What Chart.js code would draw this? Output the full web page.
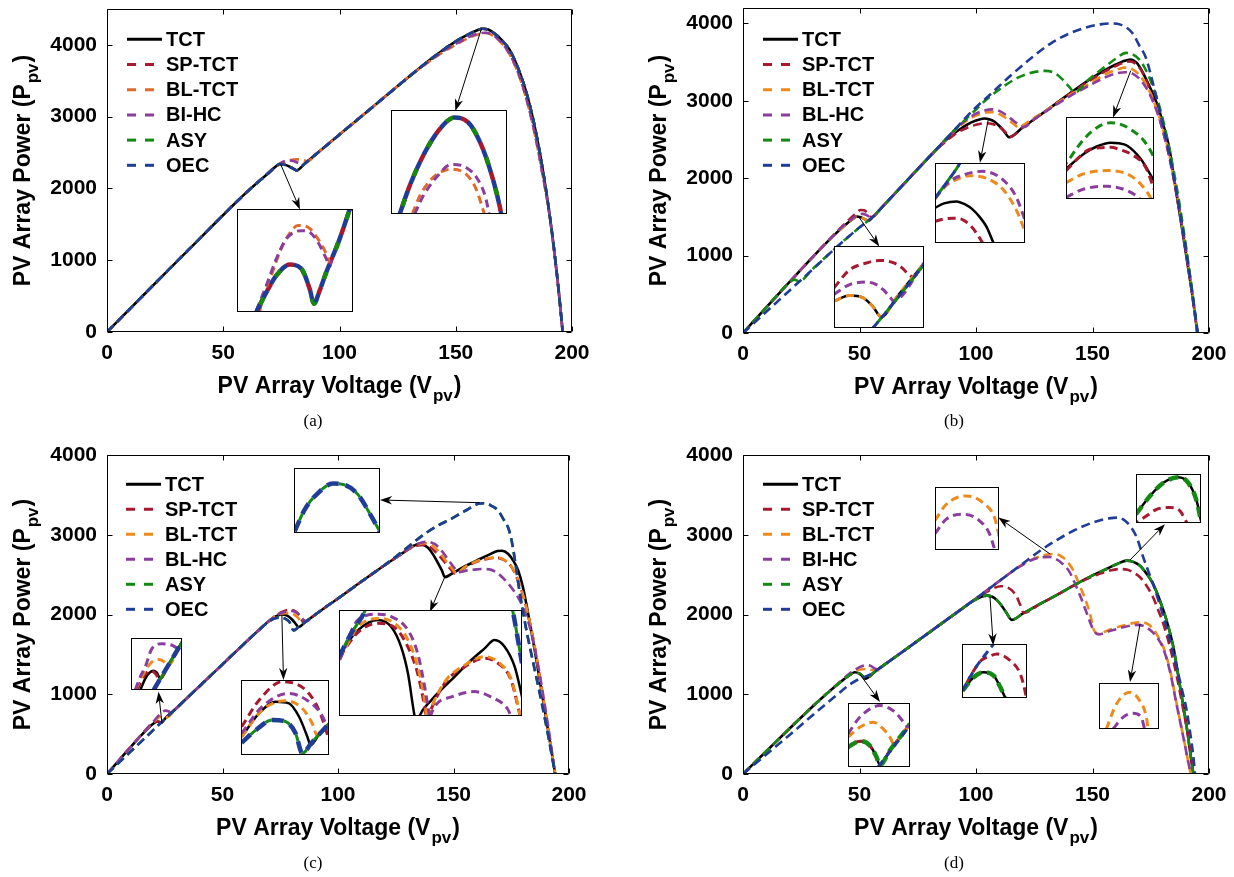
<!DOCTYPE html>
<html><head><meta charset="utf-8"><title>PV array P-V characteristics</title>
<script src="https://cdn.jsdelivr.net/npm/chart.js@4.4.1/dist/chart.umd.min.js"></script>
<style>
html,body{margin:0;padding:0;background:#fff;}
#wrap{position:relative;width:1234px;height:877px;overflow:hidden;background:#fff;}
canvas{display:block;}
.cap{position:absolute;font-family:"Liberation Serif","Times New Roman",serif;font-size:17px;line-height:20px;color:#000;transform:translateX(-50%);white-space:nowrap;}
</style></head><body><div id="wrap"></div>
<script>
// ---------------- axis ticks & series names ----------------
const V_TICKS=[0,50,100,150,200];
const P_TICKS=[0,1000,2000,3000,4000];
const SERIES=['TCT','SP-TCT','BL-TCT','BI-HC','ASY','OEC'];

// ---------------- panel (a) : [V, P] ----------------
const a_TCT=[[0,0],[10,327],[20,655],[30,980],[40,1305],[50,1630],[55,1790],[60,1945],[65,2090],[70,2230],[72,2290],[74.4,2340],[77,2325],[79,2295],[80.5,2270],[81.6,2252],[85,2345],[90,2480],[100,2750],[110,3020],[120,3290],[130,3560],[140,3820],[145,3940],[150,4050],[155,4140],[159,4200],[161.6,4225],[164,4215],[167,4150],[170,4060],[173,3940],[176,3740],[179,3480],[182,3140],[185,2700],[188,2150],[190,1720],[192,1230],[194,660],[196,0]];
const a_BL=[[0,0],[10,327],[20,655],[30,980],[40,1305],[50,1630],[55,1790],[60,1945],[65,2090],[70,2230],[73,2310],[76,2365],[79,2395],[82,2405],[84,2400],[86.3,2380],[90,2480],[100,2750],[110,3020],[120,3290],[130,3560],[140,3800],[145,3910],[150,4000],[155,4090],[160,4150],[163,4165],[166,4130],[169,4050],[172,3930],[175,3750],[178,3500],[181,3170],[184,2760],[187,2250],[190,1700],[192,1210],[194,650],[196,0]];
const a_BI=[[0,0],[10,327],[20,655],[30,980],[40,1305],[50,1630],[55,1790],[60,1945],[65,2090],[68,2175],[70,2240],[73,2320],[75.5,2370],[78,2390],[80.5,2380],[82.5,2350],[84,2318],[86,2372],[90,2480],[100,2750],[110,3020],[120,3290],[130,3560],[140,3805],[145,3920],[150,4015],[155,4100],[160,4160],[163,4170],[166,4135],[169,4055],[172,3935],[175,3755],[178,3505],[181,3175],[184,2765],[187,2255],[190,1705],[192,1215],[194,655],[196,0]];
// insets of (a), magnified view (0-100 both ways)
const a_in1_main=[[16.7,0],[25.3,19],[34,35.5],[45.4,46],[55.5,42],[62.6,22.6],[66.4,8],[71,20],[77,38.7],[88.5,71],[97,99],[100,108]];
const a_in1_BL=[[19.5,0],[22.4,14.5],[29.6,35.5],[36.8,58],[44,74],[52.6,83.9],[61.2,82.3],[69.8,71],[75.6,59.7],[80,48]];
const a_in1_BI=[[16.7,1.6],[25.3,25.8],[33.9,51.6],[42.5,71],[55.5,79],[62.6,77.4],[69.8,67.7],[77,51.6],[80,44],[82,53.5]];
const a_in2_main=[[7.5,0],[16,26.8],[27.6,55.8],[42,81.6],[54.9,92.9],[67.8,86.5],[79.3,62.3],[87.9,33.2],[93.7,7.4],[95,0]];
const a_in2_BL=[[18.4,0],[24.7,17],[36.2,35],[52,43],[65,38],[73.6,23.5],[79.3,4.2],[80.5,0]];
const a_in2_BI=[[20.4,0],[27.6,17],[39,35],[52,47.7],[65,44.5],[75,33],[82,14],[84.5,0]];

// ---------------- panel (b) ----------------
const b_TCT=[[0,0],[10,330],[20,660],[30,985],[40,1290],[44,1400],[47,1470],[48.9,1505],[50.5,1495],[52,1475],[53.8,1450],[56,1508],[60,1636],[70,1957],[80,2278],[85,2430],[88,2515],[92,2610],[96,2690],[100,2745],[103.5,2772],[106,2760],[108,2730],[110,2675],[112,2610],[114.2,2530],[120,2655],[130,2870],[140,3090],[150,3300],[155,3390],[160,3470],[163,3510],[166.3,3535],[169,3490],[171,3400],[173,3280],[175.5,3120],[178,2935],[180.5,2680],[183,2380],[185,2000],[187,1620],[189,1240],[191,850],[193,460],[195,0]];
const b_SP=[[0,0],[10,330],[20,660],[30,985],[40,1300],[44,1420],[47,1505],[49,1560],[50.5,1590],[52,1585],[53.5,1550],[55,1500],[56,1508],[60,1636],[70,1957],[80,2278],[85,2425],[88,2500],[92,2590],[96,2650],[100,2690],[104,2710],[107,2700],[110,2665],[112.5,2600],[114.5,2532],[120,2655],[130,2870],[140,3085],[150,3285],[155,3375],[160,3450],[163,3490],[166,3510],[168.5,3480],[171,3390],[173.5,3230],[176,3020],[178.5,2800],[181,2520],[183.5,2200],[186,1800],[189,1250],[192,660],[195,0]];
const b_BL=[[0,0],[10,330],[20,660],[30,985],[40,1290],[44,1400],[47,1470],[48.9,1505],[50.5,1495],[52,1475],[53.8,1450],[56,1508],[60,1636],[70,1957],[80,2278],[85,2435],[88,2530],[92,2645],[96,2745],[100,2810],[104,2850],[107,2855],[110,2830],[113,2775],[116,2705],[118.7,2650],[120,2680],[130,2875],[140,3070],[150,3245],[156,3350],[161,3410],[164,3430],[167,3410],[170,3340],[173,3210],[176,3020],[179,2760],[182,2430],[185,2000],[188,1480],[191,900],[193,480],[195,0]];
const b_BI=[[0,0],[10,330],[20,660],[30,985],[40,1295],[44,1410],[47,1480],[49.5,1530],[51.5,1540],[53.5,1515],[55,1497],[56,1508],[60,1636],[70,1957],[80,2278],[85,2438],[88,2532],[92,2655],[96,2760],[100,2835],[104,2880],[107,2890],[110,2870],[113,2815],[116,2745],[118.5,2690],[120.4,2660],[125,2765],[130,2865],[140,3055],[150,3220],[156,3310],[161,3360],[164,3370],[167,3355],[170,3290],[173,3170],[176,2990],[179,2740],[182,2410],[185,1990],[188,1480],[191,900],[193,480],[195,0]];
const b_ASY=[[0,0],[10,330],[20,655],[22,690],[24,668],[30,830],[40,1105],[50,1365],[56,1508],[60,1636],[70,1957],[80,2278],[90,2600],[95,2745],[99,2860],[105,3030],[112,3190],[118,3300],[124,3365],[130,3388],[134,3355],[137,3280],[140,3180],[142.4,3110],[148,3265],[154,3410],[160,3545],[164.4,3620],[167,3605],[170,3535],[172,3450],[174,3330],[176,3175],[178.5,2950],[181,2660],[184,2230],[187,1730],[190,1140],[193,490],[195,0]];
const b_OEC=[[0,0],[10,275],[20,550],[30,825],[40,1105],[50,1365],[56,1508],[60,1636],[70,1957],[80,2278],[90,2600],[99,2889],[106,3080],[115,3330],[124,3560],[132,3740],[140,3870],[148,3955],[154,3992],[158,4000],[162,3985],[167,3880],[170,3720],[173,3550],[176,3220],[179,2850],[182,2450],[185,1990],[188,1480],[191,900],[193,480],[195.2,0]];
const b_in1_TCT=[[0,32.7],[17.4,39.6],[32,37],[43,26.5],[52.6,13.5],[69,36.7],[100,78.8]];
const b_in1_SP=[[0,49],[17.4,71],[35,79],[50.7,82.4],[65,80],[76,73],[84,64],[88,62.5],[100,79]];
const b_in1_BI=[[0,41],[17.4,53],[35.9,56],[47,53],[54.4,47],[62,38],[66,33],[100,79]];
const b_in1_OEC=[[43.3,0],[69.3,34.7],[100,77.5]];
const b_in2_TCT=[[0,44],[10,49.5],[23.7,52],[33,48.5],[42,41.7],[50,32],[57,20.8],[65,0]];
const b_in2_SP=[[0,27],[10,30],[20,31],[31,29],[40,21],[46,12.5],[53,0]];
const b_in2_BL=[[0,55],[12.6,72],[25,80],[38.5,84],[57,81],[75.6,67],[90,42],[97.8,21],[100,14]];
const b_in2_BI=[[0,56],[16.3,77],[31,85],[53,89.6],[75.6,79],[90,58],[100,29]];
const b_in2_OEC=[[0,56],[28,100],[31,106]];
const b_in3_TCT=[[0,36.7],[20,55],[35,64],[50.6,68.6],[60,68],[69.6,65],[84.8,49],[100,22.4]];
const b_in3_SP=[[0,34.7],[24,59],[38,62.5],[50.6,63],[62,60],[73.4,55],[90.5,38.8],[100,12]];
const b_in3_BL=[[0,20],[20,30.6],[46.8,34.7],[69.6,30.6],[84.8,18.4],[96,2],[97,0]];
const b_in3_BI=[[0,2],[20,12],[46.8,15.5],[69.6,10.2],[81,3],[84,0]];
const b_in3_ASY=[[0,43],[20,72.6],[35,87],[50.6,93],[62,91],[73.4,85],[88.6,71],[98.9,53],[100,50]];

// ---------------- panel (c) ----------------
const c_TCT=[[0,0],[5,165],[10,330],[15,490],[18,580],[20,630],[21.6,655],[22.8,652],[23.6,645],[25,690],[30,825],[40,1100],[50,1375],[60,1650],[65,1785],[70,1915],[73,1975],[75.6,2000],[78,1985],[80,1940],[81.5,1890],[82.9,1843],[86,1910],[90,1995],[95,2100],[100,2200],[110,2410],[120,2615],[126,2730],[130,2810],[133,2865],[135,2885],[137,2875],[139,2835],[141,2760],[143,2660],[145,2550],[146.3,2469],[150,2525],[155,2605],[160,2675],[165,2745],[169,2795],[171,2800],[173.6,2762],[176,2670],[178,2553],[180,2350],[182,2060],[185,1580],[188,1060],[191,540],[194,0]];
const c_SP=[[0,0],[5,165],[10,330],[15,495],[18,590],[20,638],[21.5,660],[22.8,652],[23.6,645],[25,690],[30,825],[40,1100],[50,1375],[60,1650],[65,1785],[70,1915],[73,1985],[76,2035],[79,2060],[81.5,2040],[83.5,1980],[85,1900],[86,1910],[90,1995],[95,2100],[100,2200],[110,2410],[120,2615],[126,2730],[130,2810],[134,2862],[137.7,2872],[140.5,2830],[143.5,2745],[146.5,2645],[149,2560],[150.7,2510],[155,2590],[160,2660],[165,2700],[168.8,2711],[172,2680],[175,2600],[178,2420],[180,2250],[182,2030],[185,1620],[188,1100],[191,560],[194,0]];
const c_BL=[[0,0],[5,165],[10,330],[15,495],[18,592],[20,648],[22,700],[23.3,718],[24.5,712],[25.8,710],[30,825],[40,1100],[50,1375],[60,1650],[65,1785],[70,1915],[73,1980],[76,2012],[78.5,2020],[81,2000],[83,1950],[84.5,1885],[86,1910],[90,1995],[95,2100],[100,2200],[110,2410],[120,2615],[126,2730],[130,2810],[134,2872],[137.7,2894],[141,2862],[144,2775],[147,2662],[149.5,2572],[151.2,2520],[155,2598],[160,2668],[165,2706],[168.8,2714],[172,2684],[175,2605],[178,2430],[180,2258],[182,2035],[185,1620],[188,1100],[191,560],[194,0]];
const c_BI=[[0,0],[5,165],[10,330],[15,495],[18,595],[20,655],[22,722],[23.5,765],[24.5,788],[25.5,795],[26.8,784],[27.8,766],[30,825],[40,1100],[50,1375],[60,1650],[65,1785],[70,1915],[73,1985],[76,2025],[79,2045],[81.5,2035],[83.5,1990],[85.2,1930],[86.3,1917],[90,1995],[95,2100],[100,2200],[110,2410],[120,2615],[126,2730],[130,2810],[134,2880],[138.5,2913],[142,2882],[145,2795],[148,2675],[150.5,2580],[152.2,2530],[156,2553],[160,2566],[163,2570],[165.5,2566],[169,2520],[173.6,2390],[176.5,2280],[179.4,2136],[183,1844],[186,1460],[189,960],[191.5,500],[194,0]];
const c_OEC=[[0,0],[10,275],[20,550],[24,660],[30,825],[40,1100],[50,1375],[60,1650],[65,1785],[70,1910],[72.5,1950],[75,1962],[77,1950],[79,1905],[80.8,1800],[83,1846],[86,1910],[90,1995],[95,2100],[100,2200],[110,2410],[120,2615],[125,2725],[130,2840],[137.6,3012],[143,3110],[149,3200],[155,3300],[160.7,3388],[163,3395],[166,3370],[169.3,3304],[171.5,3200],[173.6,3095],[175,2950],[176.5,2700],[178,2400],[180,2050],[182,1740],[185,1330],[188,920],[191,480],[194,0]];
const c_in1_TCT=[[18.3,0],[28,22],[36,33],[44.4,37],[51,33],[57.5,21.5],[70,42.4],[100,92]];
const c_in1_SP=[[11.8,0],[24.8,25.5],[37.9,37],[47.7,32],[54,23],[57,21],[70,42.4],[100,92]];
const c_in1_BL=[[8.5,0],[24.8,32],[41.2,54],[54,58.6],[64,55],[71.5,47],[100,92]];
const c_in1_BI=[[8.5,0],[18,25],[28,44.6],[41,79.6],[60.8,89],[80.4,86],[88,82],[93,80.4],[100,92]];
const c_in1_OEC=[[44.4,0],[100,92]];
const c_in2_TCT=[[0.8,24.4],[20.5,55.6],[39.4,71],[54.5,68.9],[66,51],[75.4,24.4],[79,13.3],[88.6,27],[100,42]];
const c_in2_SP=[[0.8,37.8],[20.5,73],[47,97.8],[73.5,86.7],[86.7,64.4],[94.3,42],[100,20]];
const c_in2_BL=[[0.8,24.4],[24,60],[50.8,72.4],[69.7,62],[81,42],[87,25],[93.5,33],[100,42]];
const c_in2_BI=[[0.8,29],[24,64.4],[54.5,82],[75,73],[90.5,55.6],[98,37.8],[100,32]];
const c_in2_OEC=[[0.8,16.4],[16.7,33],[35.6,46.7],[50.8,44.4],[62,29],[69.7,2.2],[80,16],[100,42]];
const c_in3_TCT=[[0.4,59],[10.4,81],[21.3,90.6],[28.6,84],[34,65],[37.7,40],[41.3,0],[42.6,-8],[44,0],[50.5,15],[61.4,34],[72.3,52.8],[79.6,63.8],[85,71.7],[90.5,65.4],[96,46.5],[99.6,21.4],[101,10]];
const c_in3_SP=[[0.4,56],[10.4,79],[21.3,87.4],[30,84],[37.7,65],[43,40],[46.8,8.8],[48,-4],[48.8,0],[57.7,30.8],[68.7,46.5],[79.6,54.4],[86.9,49.7],[94,34],[97.8,8.8],[99,0]];
const c_in3_BL=[[0.4,54],[10.4,84],[21.3,92],[30.4,87.4],[37.7,71.7],[43,46.5],[46.8,15],[48.2,-3],[49.2,2.5],[57.7,32],[68.7,48],[79.6,56],[86.9,51],[94,35],[97.8,10],[99,0]];
const c_in3_BI=[[0.4,53],[10.4,90.6],[21.3,96],[28.6,93.7],[37.7,81],[43,59],[46.8,27.7],[49.5,0],[50,-3],[50.5,2.5],[61.4,18],[74,23],[83,18],[92,7],[94,0]];
const c_in3_OEC=[[0,56],[6.7,78],[14,98.4],[20,125],[50,220],[90,125],[95,98.4],[97.8,71.7],[100,49.7]];
const c_in4_OEC=[[0.8,2.6],[12.4,36],[27.9,61.5],[45.3,76],[58.9,74],[74.4,59],[90,25.6],[99.6,2.6]];

// ---------------- panel (d) ----------------
const d_TCT=[[0,0],[10,285],[20,570],[30,850],[38,1060],[43,1180],[46,1245],[48,1275],[50,1258],[51.3,1228],[52.4,1196],[57,1293],[65,1460],[75,1670],[85,1883],[92,2030],[98.8,2170],[102,2220],[104.6,2237],[107,2222],[109,2180],[111,2110],[113,2025],[115.3,1933],[120,2010],[127.5,2133],[135,2250],[141.8,2362],[150,2490],[156,2571],[161,2640],[164.7,2675],[167.5,2660],[170.4,2612],[173,2520],[176,2383],[179,2170],[181.8,1925],[184.7,1592],[187.6,1092],[190.4,592],[192.6,134],[193.3,0]];
const d_SP=[[0,0],[10,285],[20,570],[30,850],[38,1060],[43,1180],[46,1245],[48,1275],[50,1258],[51.3,1228],[52.4,1196],[57,1293],[65,1460],[75,1670],[85,1883],[92,2030],[98.8,2175],[102,2235],[105,2290],[108,2335],[110.5,2355],[113,2345],[115.5,2300],[117.5,2220],[119,2120],[120.5,2020],[127.5,2133],[135,2250],[141.8,2360],[148,2450],[153,2510],[158,2555],[162,2570],[165,2560],[168,2520],[170.4,2467],[173,2370],[176,2217],[178,2070],[180.4,1883],[183,1620],[186,1250],[189,800],[191.5,400],[193.3,0]];
const d_BL=[[0,0],[10,285],[20,570],[30,850],[38,1060],[43,1185],[46,1255],[48,1290],[50,1308],[52,1316],[54,1312],[56,1300],[57.5,1296],[60,1355],[65,1460],[75,1670],[85,1883],[92,2030],[98.8,2175],[105,2310],[110,2420],[116,2548],[121,2645],[126,2715],[130,2748],[133.2,2758],[136,2740],[139,2670],[141.8,2550],[144,2400],[146,2258],[148,2100],[149.5,1940],[150.4,1820],[152.5,1758],[157,1805],[163.2,1862],[168,1895],[171,1904],[174,1875],[176,1820],[178,1730],[180.4,1592],[183.3,1300],[186.1,883],[189,466],[191.8,50],[192.2,0]];
const d_BI=[[0,0],[10,285],[20,570],[30,850],[38,1060],[43,1190],[46,1265],[48,1305],[50,1340],[52,1362],[53.5,1366],[55,1352],[56.5,1325],[58,1314],[60,1355],[65,1460],[75,1670],[85,1883],[92,2030],[98.8,2175],[105,2310],[110,2420],[116,2548],[121,2640],[125,2695],[129,2720],[131.5,2722],[134,2700],[137,2640],[140,2540],[142,2420],[144.5,2250],[147,2060],[149,1900],[150.5,1800],[152.5,1750],[157,1790],[162,1830],[166,1860],[169,1870],[172,1855],[175,1800],[177.5,1720],[180.4,1570],[183.3,1280],[186.1,870],[189,460],[191.8,50],[192.2,0]];
const d_OEC=[[0,0],[10,245],[20,490],[30,740],[40,985],[46,1125],[50.2,1196],[54,1240],[57,1293],[65,1460],[75,1670],[85,1883],[92,2030],[98.8,2175],[105,2310],[110,2420],[116,2550],[122,2680],[127.5,2800],[135,2940],[141.8,3050],[148,3130],[153,3180],[157,3205],[160.5,3215],[163,3195],[166.1,3112],[169,2966],[171.8,2717],[174,2540],[176,2383],[179,2110],[181.8,1842],[184,1590],[186.1,1342],[188.3,1070],[190.4,800],[192,500],[193.3,217],[194,0]];
const d_in1_TCT=[[0,31],[19,40.4],[35,33.7],[46,15.5],[51.4,2.6],[67.6,26],[83.8,46.6],[100,67.4]];
const d_in1_BL=[[0,46.6],[19,62],[40.5,70],[56.8,59.6],[67.6,46.6],[74,36],[83.8,46.6],[100,67.4]];
const d_in1_BI=[[0,51.8],[19,77.7],[51.4,95.9],[73,88],[92,67.4],[96,62.5],[100,67.4]];
const d_in1_OEC=[[48.6,0],[67.6,24],[100,65]];
const d_in2_TCT=[[1,13.6],[18,38.3],[33,47.5],[48.7,41.4],[59,19.8],[66.7,0]];
const d_in2_SP=[[1,13.6],[18,50.6],[30,70],[42,77],[53.8,81.5],[74.4,69],[89.7,44.4],[97.4,10.5],[99,0]];
const d_in2_OEC=[[1,13.6],[18,50.6],[38.5,84.6],[48.7,100],[52,105]];
const d_in3_BL=[[0,47],[17.7,72.6],[49,85.8],[75,75],[93,51.6],[98.4,30.5],[100,22]];
const d_in3_BI=[[0,26],[17.7,49],[43.75,56.8],[69.8,46.3],[85.4,25.3],[93,1.6],[93.5,0]];
const d_in4_BL=[[12.2,0],[29,54],[51,80],[67.8,61.6],[79,25.4],[81.7,0]];
const d_in4_BI=[[23.3,0],[40,25.4],[56.7,34],[70.5,25.4],[76,0]];
const d_in5_TCT=[[0,18],[21.5,55],[42,82],[65,93.3],[80.5,82],[93.3,45],[100,4.7]];
const d_in5_SP=[[0,0],[16.4,14.8],[31.8,28],[52.3,31.5],[67.7,24.8],[78,1.3],[79,0]];

// ---------------- layout / style ----------------
const FONT='"Liberation Sans", Arial, Helvetica, sans-serif';
const COLORS=['#000000','#A6192E','#EC8A1C','#8A3D9C','#138A13','#1F3C96'];

const PANELS=[
 {key:'a',left:0,top:0,w:617,h:440,area:{l:107,r:572,t:9,b:332},yMax:4500,orange:'#DF6A2E',
  names:['TCT','SP-TCT','BL-TCT','BI-HC','ASY','OEC'],legend:{x:127,y:39.3,dy:25.2},
  data:[a_TCT,a_TCT,a_BL,a_BI,a_TCT,a_TCT],cap:{x:313,y:421,t:'(a)'},
  insets:[
   {box:[56.1,105.8,269,1707],lines:[[0,a_in1_main],[1,a_in1_main],[2,a_in1_BL],[3,a_in1_BI],[4,a_in1_main],[5,a_in1_main]]},
   {box:[122.1,172.1,1647,3089],lines:[[0,a_in2_main],[1,a_in2_main],[2,a_in2_BL],[3,a_in2_BI],[4,a_in2_main],[5,a_in2_main]]}],
  arrows:[[74.7,2336,83,1707],[161.1,4230,149.8,3080]]},
 {key:'b',left:617,top:0,w:617,h:440,area:{l:126,r:592,t:8,b:333},yMax:4200,orange:'#EC8A1C',
  names:['TCT','SP-TCT','BL-TCT','BL-HC','ASY','OEC'],legend:{x:146,y:39.3,dy:25.2},
  data:[b_TCT,b_SP,b_BL,b_BI,b_ASY,b_OEC],cap:{x:954,y:421,t:'(b)'},
  insets:[
   {box:[39.2,77.8,61,1119],lines:[[0,b_in1_TCT],[1,b_in1_SP],[2,b_in1_TCT],[3,b_in1_BI],[4,b_in1_OEC],[5,b_in1_OEC]]},
   {box:[82.5,121.2,1163,2201],lines:[[0,b_in2_TCT],[1,b_in2_SP],[2,b_in2_BL],[3,b_in2_BI],[4,b_in2_OEC],[5,b_in2_OEC]]},
   {box:[138.5,176.1,1725,2785],lines:[[0,b_in3_TCT],[1,b_in3_SP],[2,b_in3_BL],[3,b_in3_BI],[4,b_in3_ASY]]}],
  arrows:[[49.5,1508,58.5,1119],[105.3,2763,101.7,2201],[166.4,3389,158.8,2785]]},
 {key:'c',left:0,top:440,w:617,h:437,area:{l:107,r:569,t:15,b:334},yMax:4000,orange:'#EC8A1C',
  names:['TCT','SP-TCT','BL-TCT','BL-HC','ASY','OEC'],legend:{x:126,y:44.3,dy:25},
  data:[c_TCT,c_SP,c_BL,c_BI,c_OEC,c_OEC],cap:{x:313,y:863,t:'(c)'},
  insets:[
   {box:[10.4,32.4,1053,1709],lines:[[0,c_in1_TCT],[1,c_in1_SP],[2,c_in1_BL],[3,c_in1_BI],[4,c_in1_OEC],[5,c_in1_OEC]]},
   {box:[57.8,95.8,238,1179],lines:[[0,c_in2_TCT],[1,c_in2_SP],[2,c_in2_BL],[3,c_in2_BI],[4,c_in2_OEC],[5,c_in2_OEC]]},
   {box:[100.6,179.7,727,2056],lines:[[0,c_in3_TCT],[1,c_in3_SP],[2,c_in3_BL],[3,c_in3_BI],[4,c_in3_OEC],[5,c_in3_OEC]]},
   {box:[81.1,118.3,3018,3833],lines:[[4,c_in4_OEC],[5,c_in4_OEC]]}],
  arrows:[[23.8,636,22.3,1032],[75.7,1994,76.4,1179],[146.3,2474,139.8,2035],[161.4,3402,118.2,3436]]},
 {key:'d',left:617,top:440,w:617,h:437,area:{l:126,r:592,t:15,b:334},yMax:4000,orange:'#EC8A1C',
  names:['TCT','SP-TCT','BL-TCT','BI-HC','ASY','OEC'],legend:{x:146,y:44.3,dy:25},
  data:[d_TCT,d_SP,d_BL,d_BI,d_TCT,d_OEC],cap:{x:954,y:863,t:'(d)'},
  insets:[
   {box:[45.2,71.7,92,896],lines:[[0,d_in1_TCT],[1,d_in1_TCT],[2,d_in1_BL],[3,d_in1_BI],[4,d_in1_TCT],[5,d_in1_OEC]]},
   {box:[93.9,121.8,959,1634],lines:[[0,d_in2_TCT],[1,d_in2_SP],[4,d_in2_TCT],[5,d_in2_OEC]]},
   {box:[82.5,110,2808,3600],lines:[[2,d_in3_BL],[3,d_in3_BI]]},
   {box:[152.9,178.7,571,1146],lines:[[2,d_in4_BL],[3,d_in4_BI]]},
   {box:[168.7,196.6,3146,3766],lines:[[0,d_in5_TCT],[1,d_in5_SP],[4,d_in5_TCT]]}],
  arrows:[[50.2,1250,58.8,904],[106,2225,107.4,1612],[131.8,2758,109.6,3216],[170.4,1883,166.1,1154],[166.1,2683,181.1,3133]]}
];

function insetStyle(key,i){
  if(i===0) return {w:2.5,d:[],o:0};
  if(key==='a'){ if(i===5) return {w:4.5,d:[8,8],o:0}; if(i===4) return {w:4.5,d:[8,24],o:24}; if(i===1) return {w:4.5,d:[8,8],o:8}; return {w:3,d:[8,5],o:0}; }
  if(key==='c'){ if(i===5) return {w:4.5,d:[12,7],o:0}; if(i===4) return {w:3,d:[7,12],o:7}; return {w:3,d:[8,5],o:0}; }
  if(key==='d'){ if(i===4) return {w:4.5,d:[10,6],o:0}; if(i===1) return {w:3,d:[8,5],o:5}; return {w:3,d:[8,5],o:0}; }
  if(i===4) return {w:3,d:[8,5],o:6};
  return {w:3,d:[8,5],o:0};
}

// ---------------- drawing ----------------
const wrap=document.getElementById('wrap');
function pts(arr){return arr.map(q=>({x:q[0],y:q[1]}));}
function col(p,i){return i===2?p.orange:COLORS[i];}

function arrow(ctx,x0,y0,x1,y1){
  const a=Math.atan2(y1-y0,x1-x0),c=Math.cos(a),s=Math.sin(a),L=12,W=4.2,N=8.5;
  ctx.beginPath();ctx.moveTo(x0,y0);ctx.lineTo(x1-c*N,y1-s*N);ctx.stroke();
  ctx.beginPath();ctx.moveTo(x1,y1);
  ctx.lineTo(x1-L*c+W*s,y1-L*s-W*c);
  ctx.lineTo(x1-N*c,y1-N*s);
  ctx.lineTo(x1-L*c-W*s,y1-L*s+W*c);
  ctx.closePath();ctx.fill();
}

function subTitle(ctx,main,sub,tail,cx,by){
  const big=`bold 23px ${FONT}`,small=`bold 17px ${FONT}`;
  ctx.font=big;const w1=ctx.measureText(main).width,w3=ctx.measureText(tail).width;
  ctx.font=small;const w2=ctx.measureText(sub).width;
  let x=cx-(w1+w2+w3+2)/2;
  ctx.textAlign='left';ctx.textBaseline='alphabetic';ctx.fillStyle='#000';
  ctx.font=big;ctx.fillText(main,x,by);x+=w1+1;
  ctx.font=small;ctx.fillText(sub,x,by+8);x+=w2+1;
  ctx.font=big;ctx.fillText(tail,x,by);
}

function makeDecor(p){
  return {id:'decor'+p.key,
    afterDatasetsDraw(chart){
      const ctx=chart.ctx,a=chart.chartArea,sx=chart.scales.x,sy=chart.scales.y;
      ctx.save();
      ctx.strokeStyle='#000';ctx.fillStyle='#000';ctx.lineWidth=1;ctx.setLineDash([]);
      p.arrows.forEach(r=>arrow(ctx,sx.getPixelForValue(r[0]),sy.getPixelForValue(r[1]),sx.getPixelForValue(r[2]),sy.getPixelForValue(r[3])));
      const L=Math.round(a.left)+0.5,R=Math.round(a.right)-0.5,T=Math.round(a.top)+0.5,B=Math.round(a.bottom)-0.5;
      ctx.beginPath();ctx.rect(L,T,R-L,B-T);
      V_TICKS.forEach(v=>{const x=Math.round(sx.getPixelForValue(v))+0.5;ctx.moveTo(x,B);ctx.lineTo(x,B-5);ctx.moveTo(x,T);ctx.lineTo(x,T+5);});
      P_TICKS.forEach(v=>{const y=Math.round(sy.getPixelForValue(v))+0.5;ctx.moveTo(L,y);ctx.lineTo(L+5,y);ctx.moveTo(R,y);ctx.lineTo(R-5,y);});
      ctx.stroke();
      ctx.restore();
    },
    afterDraw(chart){
      const ctx=chart.ctx,a=chart.chartArea,lg=p.legend;
      ctx.save();
      p.names.forEach((n,i)=>{
        const y=lg.y+i*lg.dy;
        ctx.strokeStyle=col(p,i);ctx.lineWidth=3;ctx.setLineDash(i===0?[]:[9,9]);
        ctx.beginPath();ctx.moveTo(lg.x,y);ctx.lineTo(lg.x+35,y);ctx.stroke();
        ctx.setLineDash([]);ctx.fillStyle='#000';ctx.font=`bold 20px ${FONT}`;ctx.textAlign='left';ctx.textBaseline='middle';
        ctx.fillText(n,lg.x+39,y+1);
      });
      subTitle(ctx,'PV Array Voltage (V','pv',')',(a.left+a.right)/2,a.bottom+61);
      ctx.translate(a.left-77,(a.top+a.bottom)/2);ctx.rotate(-Math.PI/2);
      subTitle(ctx,'PV Array Power (P','pv',')',0,0);
      ctx.restore();
    }};
}

const boxFrame={id:'boxFrame',afterDraw(chart){const c=chart.ctx,w=chart.width,h=chart.height;c.save();c.strokeStyle='#000';c.lineWidth=1;c.setLineDash([]);c.strokeRect(0.5,0.5,w-1,h-1);c.restore();}};

PANELS.forEach(p=>{
  const cv=document.createElement('canvas');cv.width=p.w;cv.height=p.h;
  cv.style.cssText=`position:absolute;left:${p.left}px;top:${p.top}px;width:${p.w}px;height:${p.h}px;`;
  wrap.appendChild(cv);
  const datasets=SERIES.map((s,i)=>({label:p.names[i],data:pts(p.data[i]),borderColor:col(p,i),borderWidth:2.6,
    borderDash:i===0?[]:[9,5],borderDashOffset:0,pointRadius:0,fill:false,tension:0.3,cubicInterpolationMode:'monotone',
    borderJoinStyle:'round',order:5-i}));
  const tickFont={family:FONT,size:21,weight:'bold'};
  const chart=new Chart(cv,{type:'line',data:{datasets},
    options:{responsive:false,animation:false,devicePixelRatio:1,events:[],
      layout:{padding:{left:0,right:p.w-p.area.r,top:p.area.t,bottom:0}},
      plugins:{legend:{display:false},tooltip:{enabled:false},title:{display:false}},
      scales:{
        x:{type:'linear',min:0,max:200,grid:{display:false,drawTicks:false},border:{display:false},
           ticks:{padding:9,autoSkip:false,maxRotation:0,color:'#000',font:tickFont,callback:v=>String(v)},
           afterBuildTicks:s=>{s.ticks=V_TICKS.map(v=>({value:v}));},
           afterFit:s=>{s.height=p.h-p.area.b;s.paddingLeft=0;s.paddingRight=0;}},
        y:{type:'linear',min:0,max:p.yMax,grid:{display:false,drawTicks:false},border:{display:false},
           ticks:{padding:10,color:'#000',font:tickFont,callback:v=>String(v)},
           afterBuildTicks:s=>{s.ticks=P_TICKS.map(v=>({value:v}));},
           afterFit:s=>{s.width=p.area.l;s.paddingTop=0;s.paddingBottom=0;}}
      }},
    plugins:[makeDecor(p)]});

  p.insets.forEach(ins=>{
    const sx=chart.scales.x,sy=chart.scales.y;
    const X0=sx.getPixelForValue(ins.box[0]),X1=sx.getPixelForValue(ins.box[1]);
    const Yb=sy.getPixelForValue(ins.box[2]),Yt=sy.getPixelForValue(ins.box[3]);
    const left=Math.round(p.left+X0),top=Math.round(p.top+Yt),w=Math.round(X1-X0),h=Math.round(Yb-Yt);
    const ic=document.createElement('canvas');ic.width=w;ic.height=h;
    ic.style.cssText=`position:absolute;left:${left}px;top:${top}px;width:${w}px;height:${h}px;background:#fff;`;
    wrap.appendChild(ic);
    const ds=ins.lines.map(([i,arr])=>{const st=insetStyle(p.key,i);return {label:SERIES[i],data:pts(arr),borderColor:col(p,i),borderWidth:st.w,
      borderDash:st.d,borderDashOffset:st.o,pointRadius:0,fill:false,tension:0.3,cubicInterpolationMode:'monotone',borderJoinStyle:'round',order:5-i};});
    new Chart(ic,{type:'line',data:{datasets:ds},
      options:{responsive:false,animation:false,devicePixelRatio:1,events:[],layout:{padding:0},
        plugins:{legend:{display:false},tooltip:{enabled:false}},
        scales:{x:{type:'linear',min:0,max:100,display:false},y:{type:'linear',min:0,max:100,display:false}}},
      plugins:[boxFrame]});
  });

  const cap=document.createElement('div');cap.className='cap';cap.textContent=p.cap.t;
  cap.style.left=p.cap.x+'px';cap.style.top=(p.cap.y-10)+'px';wrap.appendChild(cap);
});
</script></body></html>
